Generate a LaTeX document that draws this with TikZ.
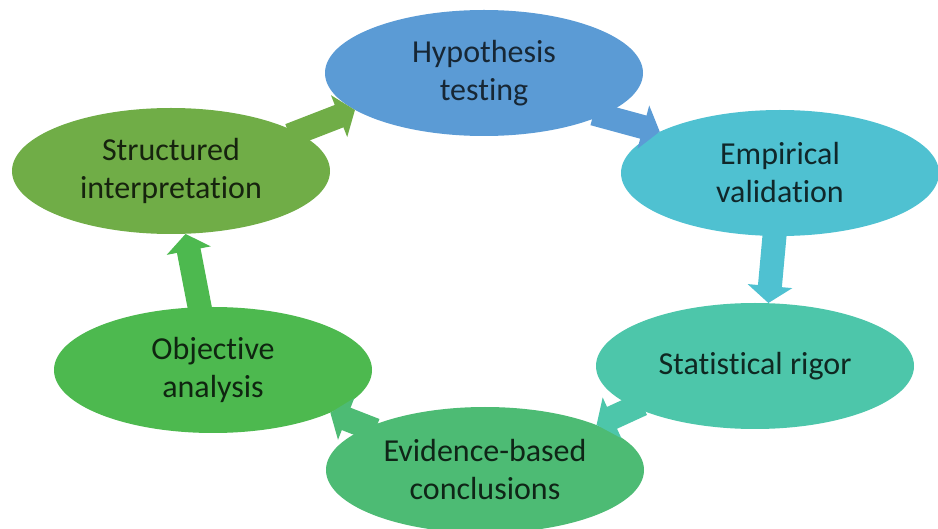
\documentclass[tikz,border=0pt]{standalone}
\usepackage{fontspec}
\setmainfont{Carlito}[Ligatures=NoCommon]
\usetikzlibrary{arrows.meta,shapes.geometric}
\definecolor{cHyp}{HTML}{5B9BD5}
\definecolor{cEmp}{HTML}{4FC1D1}
\definecolor{cSta}{HTML}{4DC6AA}
\definecolor{cEvi}{HTML}{4DBB74}
\definecolor{cObj}{HTML}{4DB94F}
\definecolor{cStr}{HTML}{70AD47}
\begin{document}
\begin{tikzpicture}[x=1pt,y=-1pt,
    bubble/.style={ellipse,minimum width=318pt,minimum height=126pt,inner sep=0pt,
      align=center,font=\fontsize{32}{38}\selectfont},
    flow/.style={line width=24pt,shorten <=-8pt,-{Triangle[length=17pt,width=44pt]}}]
  \useasboundingbox (0,0) rectangle (938,529);
  % the six steps of the cycle
  \node[bubble,fill=cHyp,text=cHyp!25!black] (hyp) at (484,73) {Hypothesis\\testing};
  \node[bubble,fill=cEmp,text=cEmp!20!black] (emp) at (780,173) {Empirical\\validation};
  \node[bubble,fill=cSta,text=cSta!20!black] (sta) at (755,366) {Statistical rigor};
  \node[bubble,fill=cEvi,text=cEvi!20!black] (evi) at (485,470) {Evidence-based\\conclusions};
  \node[bubble,fill=cObj,text=cObj!20!black] (obj) at (213,370) {Objective\\analysis};
  \node[bubble,fill=cStr,text=cStr!20!black] (str) at (171,171) {Structured\\interpretation};
  % arrows between them
  \draw[flow,cStr] (str.17) -- (hyp.196);
  \draw[flow,cHyp] (hyp.340) -- (emp.161);
  \draw[flow,cEmp] (emp.265) -- (sta.78);
  \draw[flow,cSta] (sta.199) -- (evi.22);
  \draw[flow,cEvi] (evi.160) -- (obj.340);
  \draw[flow,cObj] (obj.102) -- (str.283);
\end{tikzpicture}
\end{document}
